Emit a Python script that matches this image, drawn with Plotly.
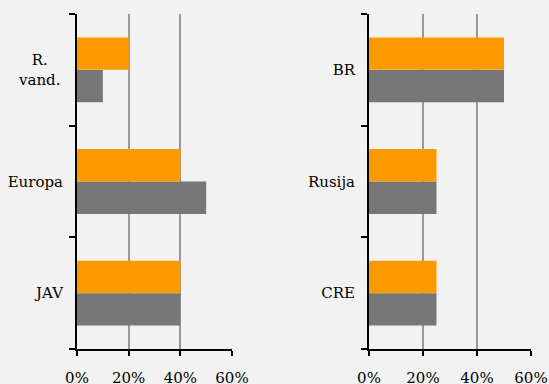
import plotly.graph_objects as go

left_cats = ["JAV", "Europa", "R. vand."]
left_orange = [0.40, 0.40, 0.20]
left_gray = [0.40, 0.50, 0.10]

right_cats = ["CRE", "Rusija", "BR"]
right_orange = [0.25, 0.25, 0.50]
right_gray = [0.25, 0.25, 0.50]

x_ticks = [0, 0.2, 0.4, 0.6]
x_tick_text = ["0%", "20%", "40%", "60%"]

ORANGE = "#FF9900"
GRAY = "#767676"
BG = "#F2F2F2"
FONT = "DejaVu Serif"
FS = 15

fig = go.Figure()
fig.add_trace(go.Bar(y=left_cats, x=left_gray, orientation="h", marker=dict(color=GRAY, line=dict(width=0)), xaxis="x", yaxis="y", showlegend=False))
fig.add_trace(go.Bar(y=left_cats, x=left_orange, orientation="h", marker=dict(color=ORANGE, line=dict(width=0)), xaxis="x", yaxis="y", showlegend=False))
fig.add_trace(go.Bar(y=right_cats, x=right_gray, orientation="h", marker=dict(color=GRAY, line=dict(width=0)), xaxis="x2", yaxis="y2", showlegend=False))
fig.add_trace(go.Bar(y=right_cats, x=right_orange, orientation="h", marker=dict(color=ORANGE, line=dict(width=0)), xaxis="x2", yaxis="y2", showlegend=False))

W, H = 549, 384
xcommon = dict(range=[0, 0.6], tickvals=x_ticks, ticktext=x_tick_text, showgrid=True,
               gridcolor="#999999", gridwidth=2, showline=True, linecolor="black", linewidth=2,
               ticks="outside", ticklen=5, tickwidth=2, tickcolor="black", zeroline=False,
               ticklabelstandoff=9, automargin=False,
               tickfont=dict(family=FONT, size=FS, color="black"), fixedrange=True)
ycommon = dict(type="category", range=[-0.5, 2.5], showline=True, linecolor="black", linewidth=2,
               ticks="outside", tickson="boundaries", ticklen=6, tickwidth=2, tickcolor="black",
               showgrid=False, zeroline=False, ticklabelstandoff=9, automargin=False,
               tickfont=dict(family=FONT, size=FS, color="black"), fixedrange=True)

left_ticktext = [c if "vand" not in c else "" for c in left_cats]

fig.update_layout(
    width=W, height=H,
    margin=dict(l=0, r=0, t=14, b=35),
    paper_bgcolor=BG, plot_bgcolor=BG,
    barmode="group", bargap=0.42, bargroupgap=0,
    xaxis=dict(domain=[77 / W, 232 / W], anchor="y", **xcommon),
    xaxis2=dict(domain=[369 / W, 531 / W], anchor="y2", **xcommon),
    yaxis=dict(domain=[0, 1], anchor="x", tickvals=left_cats, ticktext=left_ticktext, **ycommon),
    yaxis2=dict(domain=[0, 1], anchor="x2", **ycommon),
    font=dict(family=FONT, size=FS, color="black"),
)

fig.add_annotation(
    x=0, y=left_cats[2], xref="x", yref="y", text="R.<br>vand.", showarrow=False,
    xanchor="right", yanchor="middle", align="center", xshift=-15,
    font=dict(family=FONT, size=FS, color="black"),
)

fig.write_html("out.html")
